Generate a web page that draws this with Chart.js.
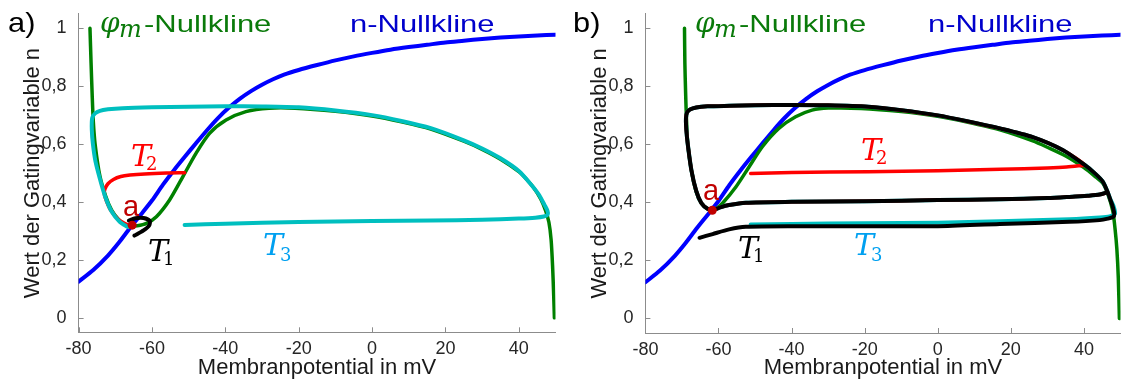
<!DOCTYPE html>
<html>
<head>
<meta charset="utf-8">
<script src="https://cdn.jsdelivr.net/npm/chart.js@4.4.0/dist/chart.umd.min.js"></script>
<style>
html, body { margin: 0; padding: 0; background: #fff; }
#wrap { position: relative; width: 1125px; height: 383px; }
.box { position: absolute; top: 0; height: 383px; }
#boxA { left: 0; width: 560px; }
#boxB { left: 560px; width: 565px; }
</style>
</head>
<body>
<div id="wrap">
  <div class="box" id="boxA"><canvas id="chartA"></canvas></div>
  <div class="box" id="boxB"><canvas id="chartB"></canvas></div>
</div>
<script>
// Achsen
const xTicks = [-80, -60, -40, -20, 0, 20, 40];
const yTicks = [0, 0.2, 0.4, 0.6, 0.8, 1];

// n-Nullkline (gleich in a und b)
const nNullV = [-80, -76, -72, -69, -66, -63, -60, -57, -54, -51, -48, -45, -42, -39, -36, -33, -30, -27, -24, -20, -15, -10, -5, 0, 5, 10, 15, 20, 25, 30, 35, 40, 45, 50];
const nNullN = [0.125, 0.165, 0.215, 0.26, 0.31, 0.357, 0.405, 0.46, 0.51, 0.557, 0.603, 0.648, 0.69, 0.726, 0.757, 0.783, 0.805, 0.824, 0.840, 0.856, 0.873, 0.889, 0.903, 0.915, 0.926, 0.935, 0.943, 0.951, 0.957, 0.963, 0.968, 0.972, 0.975, 0.978];

// a) phi_m-Nullkline
const phiAV = [-76.9, -76.6, -76.3, -76.0, -75.5, -74.2, -72.6, -71.0, -69.0, -67.5, -66.0, -64.0, -61.5, -58.8, -55.2, -51.6, -48.0, -44.3, -39.8, -34.4, -28.1, -21, -10, 0, 8, 16, 25, 30, 35, 40, 42, 44, 46, 47.3, 48.2, 48.8, 49.2, 49.5, 49.7];
const phiAN = [1.0, 0.88, 0.77, 0.68, 0.60, 0.49, 0.42, 0.372, 0.338, 0.323, 0.317, 0.318, 0.326, 0.349, 0.407, 0.487, 0.568, 0.637, 0.683, 0.712, 0.724, 0.724, 0.713, 0.697, 0.677, 0.652, 0.610, 0.582, 0.548, 0.505, 0.48, 0.45, 0.41, 0.37, 0.33, 0.27, 0.18, 0.08, 0.0];

// a) Trajektorien
const t1AV = [-66.3, -64.5, -62.3, -60.6, -60.8, -62.3, -64.8];
const t1AN = [0.336, 0.344, 0.345, 0.335, 0.318, 0.302, 0.284];
const t2AV = [-51.1, -56, -62, -66, -68.5, -70.5, -72, -72.8, -73.0, -72.6, -71.4, -69.2, -66.8];
const t2AN = [0.501, 0.500, 0.497, 0.493, 0.488, 0.478, 0.463, 0.445, 0.43, 0.41, 0.375, 0.34, 0.322];
const t3AV = [-51.1, -40, -20, 0, 16, 30, 40, 44.5, 46.8, 47.9, 47.8, 47.0, 45.5, 43.5, 40, 35, 30, 25, 16, 8, 0, -10, -20, -30, -40, -50, -60, -68, -72, -74.2, -75.5, -76.3, -76.4, -76.1, -75.4, -74.2, -72.8, -71.0, -68.8, -66.5];
const t3AN = [0.321, 0.325, 0.331, 0.334, 0.336, 0.339, 0.343, 0.346, 0.350, 0.357, 0.37, 0.39, 0.425, 0.458, 0.507, 0.551, 0.585, 0.613, 0.655, 0.680, 0.700, 0.716, 0.727, 0.730, 0.731, 0.729, 0.727, 0.724, 0.720, 0.715, 0.706, 0.69, 0.65, 0.60, 0.54, 0.48, 0.42, 0.367, 0.332, 0.313];
const ruheA = [-65.4, 0.320];

// b) phi_m-Nullkline
const phiBV = [-69.3, -69.2, -69.0, -68.8, -68.4, -67.4, -66.1, -64.7, -63.0, -61.8, -60.5, -58.9, -55.2, -51.6, -48.0, -43.5, -38.9, -34.4, -29.9, -21, -10, 0, 8, 17, 26, 30, 35, 40, 43, 45.2, 46.5, 47.9, 48.5, 49.0, 49.4, 49.7];
const phiBN = [1.0, 0.88, 0.78, 0.70, 0.60, 0.51, 0.437, 0.397, 0.378, 0.374, 0.380, 0.397, 0.454, 0.523, 0.592, 0.655, 0.695, 0.718, 0.725, 0.724, 0.713, 0.697, 0.677, 0.65, 0.612, 0.59, 0.56, 0.52, 0.49, 0.465, 0.43, 0.37, 0.31, 0.24, 0.14, 0.0];

// b) Grenzzyklus und Trajektorien
const zyklusV = [46.5, 45.2, 43, 40.2, 34.3, 26, 17, 8, 0, -10, -19, -30, -40, -50, -57, -63, -66.1, -67.8, -68.6, -68.9, -68.8, -68.4, -67.4, -66.1, -64.7, -63.0, -61.5, -59.5, -57.1, -52.5, -40, -20, 0, 17, 30, 36, 41, 44.3, 46.5];
const zyklusN = [0.435, 0.471, 0.50, 0.529, 0.58, 0.625, 0.655, 0.680, 0.700, 0.718, 0.730, 0.735, 0.736, 0.735, 0.733, 0.731, 0.727, 0.720, 0.71, 0.69, 0.65, 0.60, 0.51, 0.44, 0.398, 0.378, 0.374, 0.383, 0.391, 0.399, 0.402, 0.404, 0.408, 0.411, 0.415, 0.419, 0.423, 0.427, 0.435];
const t1BV = [-65.2, -61.6, -57.1, -52.5, -38.9, -16.3, 0, 17, 36, 44.3, 46.5, 48.0, 48.3, 47.9, 47.2];
const t1BN = [0.278, 0.291, 0.307, 0.316, 0.318, 0.318, 0.318, 0.326, 0.333, 0.339, 0.344, 0.35, 0.36, 0.385, 0.41];
const t2BV = [-51.2, -40, -19.1, 0, 17.1, 30, 35.2, 38.5];
const t2BN = [0.50, 0.503, 0.506, 0.509, 0.514, 0.519, 0.522, 0.526];
const t3BV = [-51.2, -40, -20, 0, 17, 36, 44.3, 47.0, 48.5, 48.1, 47.2];
const t3BN = [0.324, 0.326, 0.328, 0.330, 0.335, 0.342, 0.348, 0.352, 0.362, 0.387, 0.412];
const ruheB = [-61.7, 0.373];

function pts(vs, ns) {
    return vs.map((v, i) => ({ x: v, y: ns[i] }));
}

function linie(data, color, width, order) {
    return {
        data: data,
        showLine: true,
        borderColor: color,
        borderWidth: width,
        pointRadius: 0,
        tension: 0.25,
        borderCapStyle: 'round',
        borderJoinStyle: 'round',
        order: order
    };
}

// Achsenstriche nach innen + Beschriftungen
const notesPlugin = {
    id: 'notes',
    afterDraw(chart, args, opts) {
        const ctx = chart.ctx;
        const xs = chart.scales.x, ys = chart.scales.y;
        const area = chart.chartArea;
        ctx.save();
        ctx.strokeStyle = '#8c8c8c';
        ctx.lineWidth = 1;
        ctx.beginPath();
        xs.ticks.forEach(t => {
            const px = Math.round(xs.getPixelForValue(t.value)) + 0.5;
            ctx.moveTo(px, area.bottom);
            ctx.lineTo(px, area.bottom - 5);
        });
        ys.ticks.forEach(t => {
            const py = Math.round(ys.getPixelForValue(t.value)) + 0.5;
            ctx.moveTo(area.left, py);
            ctx.lineTo(area.left + 5, py);
        });
        ctx.stroke();
        (opts.items || []).forEach(it => {
            ctx.save();
            ctx.font = it.font;
            ctx.fillStyle = it.color;
            ctx.textAlign = 'left';
            ctx.textBaseline = 'alphabetic';
            ctx.translate(it.x, it.y);
            ctx.scale(it.sx || 1, 1);
            ctx.fillText(it.text, 0, 0);
            ctx.restore();
        });
        ctx.restore();
    }
};

function makeChart(id, datasets, items, leftW, bottomH, padRight, titlePad) {
    return new Chart(document.getElementById(id), {
        type: 'scatter',
        data: { datasets: datasets },
        plugins: [notesPlugin],
        options: {
            responsive: true,
            maintainAspectRatio: false,
            animation: false,
            devicePixelRatio: 1,
            layout: { padding: { top: 13.8, right: padRight, left: 0, bottom: 0 } },
            plugins: {
                legend: { display: false },
                tooltip: { enabled: false },
                notes: { items: items }
            },
            scales: {
                x: {
                    type: 'linear',
                    min: -80,
                    max: 50,
                    afterBuildTicks: s => { s.ticks = xTicks.map(v => ({ value: v })); },
                    afterFit: s => { s.height = bottomH; },
                    grid: { display: false },
                    border: { display: true, color: '#8c8c8c', width: 1 },
                    ticks: {
                        color: '#262626',
                        font: { family: 'Liberation Sans', size: 18, lineHeight: 1 },
                        padding: 0,
                        maxRotation: 0,
                        callback: v => String(v)
                    },
                    title: {
                        display: true,
                        text: 'Membranpotential in mV',
                        color: '#1a1a1a',
                        font: { family: 'Liberation Sans', size: 22, lineHeight: 1.2 },
                        padding: { top: 0, bottom: 1.5 }
                    }
                },
                y: {
                    type: 'linear',
                    min: -0.05,
                    max: 1.05,
                    afterBuildTicks: s => { s.ticks = yTicks.map(v => ({ value: v })); },
                    afterFit: s => { s.width = leftW; },
                    grid: { display: false },
                    border: { display: true, color: '#8c8c8c', width: 1 },
                    ticks: {
                        color: '#262626',
                        font: { family: 'Liberation Sans', size: 18, lineHeight: 1 },
                        padding: 4,
                        callback: v => String(v).replace('.', ',')
                    },
                    title: {
                        display: true,
                        text: 'Wert der Gatingvariable n',
                        color: '#1a1a1a',
                        font: { family: 'Liberation Sans', size: 22, lineHeight: 1.2 },
                        padding: { top: titlePad, bottom: 0 }
                    }
                }
            }
        }
    });
}

const GRUEN = '#008000', BLAU = '#0000ff', CYAN = '#00bfbf', ROT = '#ff0000', SCHWARZ = '#000000', DUNKELROT = '#c00000';

function punkt(p) {
    return {
        data: [{ x: p[0], y: p[1] }],
        pointRadius: 4.5,
        pointBackgroundColor: DUNKELROT,
        pointBorderWidth: 0,
        showLine: false,
        order: 0
    };
}

function labels(o) {
    const sans = "'Liberation Sans'";
    const serif = "'DejaVu Serif'";
    return [
        { text: o.panel, x: o.px, y: 32, font: '28px ' + sans, color: '#000', sx: 1.1 },
        { text: '\u03C6', x: o.phiX, y: 32, font: 'italic 28px ' + serif, color: '#0a7a0a' },
        { text: 'm', x: o.phiX + 19, y: 37, font: 'italic 24px ' + serif, color: '#0a7a0a' },
        { text: '-Nullkline', x: o.phiX + 44, y: 32.3, font: '24px ' + sans, color: '#0a7a0a', sx: 1.29 },
        { text: 'n-Nullkline', x: o.nX, y: 32.3, font: '24px ' + sans, color: '#0000cc', sx: 1.29 },
        { text: 'T', x: o.t1[0], y: o.t1[1], font: 'italic 30px ' + serif, color: '#000' },
        { text: '1', x: o.t1[0] + 15, y: o.t1[1] + 4, font: '18px ' + serif, color: '#000' },
        { text: 'T', x: o.t2[0], y: o.t2[1], font: 'italic 30px ' + serif, color: ROT },
        { text: '2', x: o.t2[0] + 15, y: o.t2[1] + 4, font: '18px ' + serif, color: ROT },
        { text: 'T', x: o.t3[0], y: o.t3[1], font: 'italic 30px ' + serif, color: '#00a0f0' },
        { text: '3', x: o.t3[0] + 17, y: o.t3[1] + 6, font: '18px ' + serif, color: '#00a0f0' },
        { text: 'a', x: o.a[0], y: o.a[1], font: '29px ' + sans, color: DUNKELROT }
    ];
}

makeChart('chartA', [
    punkt(ruheA),
    linie(pts(t1AV, t1AN), SCHWARZ, 4, 1),
    linie(pts(t3AV, t3AN), CYAN, 4, 2),
    linie(pts(t2AV, t2AN), ROT, 3.5, 3),
    linie(pts(phiAV, phiAN), GRUEN, 3.5, 4),
    linie(pts(nNullV, nNullN), BLAU, 4, 5)
], labels({
    panel: 'a)', px: 8, phiX: 100, nX: 350,
    t1: [148, 261], t2: [131, 166], t3: [263, 255], a: [123, 216]
}), 78.6, 50.7, 2.5, 19.8);

const zyklus = pts(zyklusV, zyklusN);
makeChart('chartB', [
    punkt(ruheB),
    linie(pts(t1BV, t1BN).concat(zyklus), SCHWARZ, 4, 1),
    linie(pts(t2BV, t2BN).concat(zyklus.slice(3)), ROT, 3.5, 2),
    linie(pts(t3BV, t3BN).concat(zyklus), CYAN, 4, 3),
    linie(pts(phiBV, phiBN), GRUEN, 3.5, 4),
    linie(pts(nNullV, nNullN), BLAU, 4, 5)
], labels({
    panel: 'b)', px: 13, phiX: 135, nX: 368,
    t1: [178, 258], t2: [301, 160], t3: [294, 255], a: [143, 200]
}), 85.4, 50, 0.5, 26.4);
</script>
</body>
</html>
